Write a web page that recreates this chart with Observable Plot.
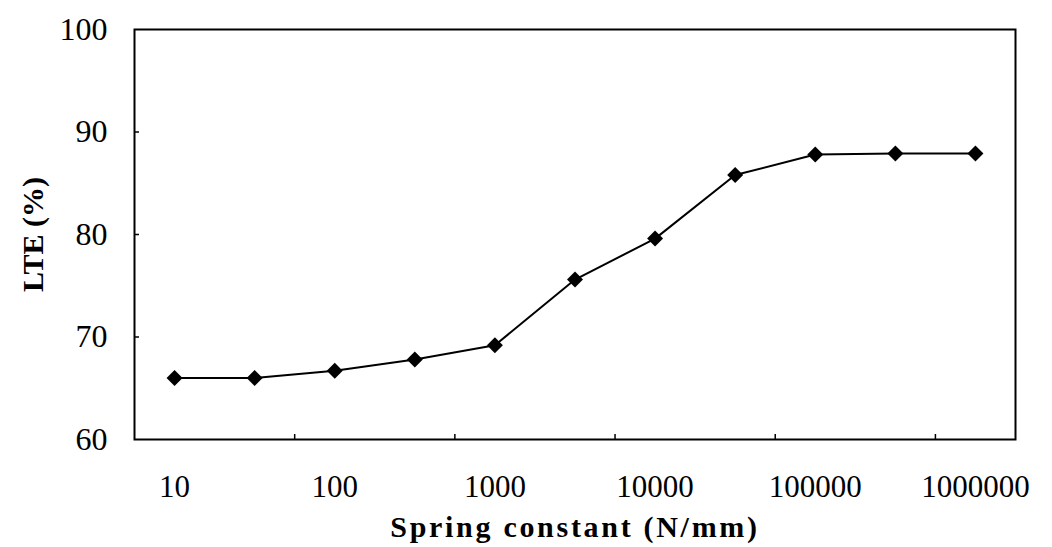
<!DOCTYPE html>
<html><head><meta charset="utf-8">
<script src="https://cdn.jsdelivr.net/npm/d3@7"></script>
<script src="https://cdn.jsdelivr.net/npm/@observablehq/plot@0.6"></script>
<style>
body{margin:0;background:#fff;}
#chart{width:1052px;height:547px;}
</style></head><body><div id="chart"></div>
<script>
const springConstants = ["10","30","100","300","1000","3000","10000","30000","100000","300000","1000000"];
const lteValues = [66.0, 66.0, 66.7, 67.8, 69.2, 75.6, 79.6, 85.8, 87.8, 87.9, 87.9];
const labeledTicks = ["10","100","1000","10000","100000","1000000"];
const yTicks = [60, 70, 80, 90, 100];
const yInnerTicks = [70, 80, 90];
const xTitle = "Spring constant (N/mm)";
const yTitle = "LTE (%)";

const data = springConstants.map((k, i) => ({i, k, lte: lteValues[i]}));
const labelIdx = springConstants.map((k, i) => i).filter(i => labeledTicks.includes(springConstants[i]));
const tickIdx = labelIdx.slice(0, -1).map(i => i + 1.5);

const svg = Plot.plot({
  width: 1052, height: 547,
  marginLeft: 134, marginRight: 37, marginTop: 29, marginBottom: 108,
  style: {fontFamily: "'Liberation Serif', 'Times New Roman', serif", color: "#000", background: "#fff"},
  x: {domain: [-0.5, springConstants.length - 0.5]},
  y: {domain: [60, 100]},
  marks: [
    Plot.axisY({ticks: yTicks, tickSize: 0, tickPadding: 27, fontSize: 32, label: null}),
    Plot.axisY({ticks: yInnerTicks, tickSize: -5, text: null, label: null, strokeWidth: 1.5}),
    Plot.axisX({ticks: labelIdx, tickSize: 0, tickPadding: 35, fontSize: 31, tickFormat: i => springConstants[i], label: null}),
    Plot.axisX({ticks: tickIdx, tickSize: -5, text: null, label: null, strokeWidth: 1.5}),
    Plot.frame({stroke: "#000", strokeWidth: 2}),
    Plot.line(data, {x: "i", y: "lte", stroke: "#000", strokeWidth: 2}),
    Plot.dot(data, {x: "i", y: "lte", symbol: "diamond2", r: 7.2, fill: "#000", stroke: "none"}),
    Plot.text([xTitle], {text: d => d, frameAnchor: "bottom", dy: 97, lineAnchor: "bottom", fontSize: 30, fontWeight: "bold"}),
    Plot.text([yTitle], {text: d => d, frameAnchor: "left", dx: -101, rotate: -90, textAnchor: "middle", fontSize: 30, fontWeight: "bold"})
  ]
});
d3.select(svg).selectAll("text").filter(function() { return this.textContent === xTitle; }).attr("letter-spacing", "2.7px");
document.getElementById("chart").appendChild(svg);
</script>
</body></html>
